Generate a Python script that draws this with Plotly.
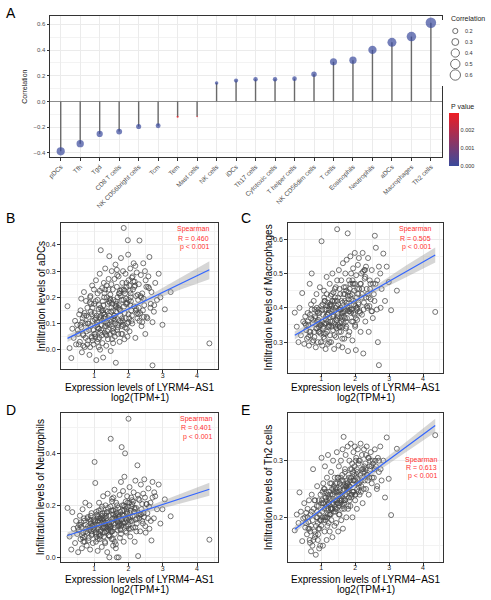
import plotly.graph_objects as go

# ---------------- Panel A data ----------------
cell_types = ["pDCs", "Tfh", "Tgd", "CD8 T cells", "NK CD56bright cells", "Tcm", "Tem",
              "Mast cells", "NK cells", "iDCs", "Th17 cells", "Cytotoxic cells",
              "T helper cells", "NK CD56dim cells", "T cells", "Eosinophils",
              "Neutrophils", "aDCs", "Macrophages", "Th2 cells"]
correlation = [-0.389, -0.329, -0.253, -0.235, -0.196, -0.190, -0.120, -0.117, 0.143, 0.162,
               0.172, 0.172, 0.177, 0.211, 0.308, 0.321, 0.401, 0.460, 0.505, 0.613]
p_value = [0.0, 0.0, 0.0, 0.0, 0.0, 0.0, 0.00292, 0.0027, 0.0, 0.0,
           0.0, 0.0, 0.0, 0.0, 0.0, 0.0, 0.0, 0.0, 0.0, 0.0]
size_legend_vals = [0.2, 0.3, 0.4, 0.5, 0.6]
pval_ticks = [0.0, 0.001, 0.002]

# ---------------- Scatter panels data (shared LYRM4-AS1 expression) ----------------
expr = [0.22, 0.28, 0.33, 0.36, 0.40, 0.44, 0.47, 0.50, 0.53, 0.56,
        0.58, 0.60, 0.62, 0.64, 0.66, 0.68, 0.70, 0.72, 0.74, 0.76,
        0.78, 0.80, 0.82, 0.84, 0.86, 0.88, 0.90, 0.92, 0.94, 0.96,
        0.98, 1.00, 1.01, 1.03, 1.05, 1.06, 1.08, 1.10, 1.11, 1.13,
        1.14, 1.16, 1.17, 1.19, 1.20, 1.22, 1.23, 1.25, 1.26, 1.28,
        1.29, 1.30, 1.32, 1.33, 1.35, 1.36, 1.38, 1.39, 1.40, 1.42,
        1.43, 1.44, 1.46, 1.47, 1.48, 1.50, 1.51, 1.52, 1.54, 1.55,
        1.56, 1.58, 1.59, 1.60, 1.62, 1.63, 1.64, 1.66, 1.67, 1.68,
        1.70, 1.71, 1.72, 1.74, 1.75, 1.76, 1.78, 1.79, 1.80, 1.82,
        1.83, 1.84, 1.86, 1.87, 1.88, 1.90, 1.91, 1.92, 1.94, 1.95,
        1.96, 1.98, 1.99, 2.00, 2.02, 2.03, 2.05, 2.06, 2.08, 2.10,
        2.11, 2.13, 2.15, 2.16, 2.18, 2.20, 2.22, 2.24, 2.26, 2.28,
        2.30, 2.32, 2.34, 2.36, 2.38, 2.40, 2.43, 2.46, 2.49, 2.52,
        2.55, 2.58, 2.61, 2.64, 2.67, 2.70, 2.74, 2.78, 2.83, 2.88,
        2.93, 2.99, 3.06, 3.23, 4.36, 0.95, 1.25, 1.45, 1.65, 1.85,
        1.05, 1.15, 1.35, 1.55, 1.75, 1.95, 1.10, 1.30, 1.50, 1.70,
        0.85, 1.02, 1.18, 1.34, 1.49, 1.61, 1.77, 1.89, 2.04, 2.21,
        0.75, 0.92, 1.12, 1.27, 1.41, 1.57, 1.73, 1.93, 2.09, 2.35,
        0.65, 0.88, 1.07, 1.21, 1.37, 1.53, 1.69, 1.81, 2.01, 2.45,
        0.70, 0.97, 1.24, 1.45, 1.60, 1.80, 2.00, 2.25, 2.50, 2.70,
        0.80, 0.90, 1.00, 1.10, 1.20, 1.30, 1.40, 1.50, 1.60, 1.70,
        1.80, 1.90, 2.00, 2.10, 2.20, 2.30, 2.40, 0.60, 0.68, 0.87,
        0.83, 0.93, 1.04, 1.13, 1.22, 1.31, 1.42, 1.52, 1.62, 1.72,
        1.82, 1.92, 2.02, 2.12, 2.27, 2.42, 2.60, 0.55, 0.72, 0.99,
        0.77, 0.89, 1.09, 1.19, 1.28, 1.38, 1.47, 1.58, 1.67, 1.78,
        1.88, 1.97, 2.07, 2.17, 2.32, 2.48, 2.65, 0.62, 1.15, 1.55,
        0.95, 1.08, 1.16, 1.26, 1.36, 1.46, 1.56, 1.66, 1.76, 1.86,
        1.96, 2.06, 2.14, 2.23, 2.37, 2.53, 2.75, 0.52, 0.81, 1.33,
        1.03, 1.14, 1.23, 1.32, 1.43, 1.54, 1.64, 1.74, 1.84, 1.94,
        2.05, 2.19, 2.29, 2.44, 2.57, 0.67, 0.91, 1.18, 1.39, 1.63]

adcs = [0.166, 0.006, -0.032, 0.080, 0.045, 0.110, 0.020, 0.095, 0.060, 0.135,
        0.030, 0.150, 0.085, -0.010, 0.120, 0.055, 0.220, 0.010, 0.100, 0.186,
        0.070, 0.160, 0.035, 0.125, -0.020, 0.200, 0.090, 0.050, 0.245, 0.110,
        0.020, 0.175, 0.140, 0.060, 0.265, -0.040, 0.105, 0.215, 0.040, 0.155,
        0.080, 0.290, 0.000, 0.380, 0.130, 0.055, 0.235, 0.185, -0.030, 0.120,
        0.200, 0.065, 0.310, 0.150, 0.015, 0.245, 0.100, 0.175, 0.040, 0.270,
        0.130, 0.357, 0.060, 0.210, -0.005, 0.160, 0.300, 0.090, 0.230, 0.025,
        0.190, 0.110, 0.270, 0.050, 0.325, -0.050, 0.145, 0.240, 0.075, 0.200,
        0.095, 0.280, 0.170, 0.030, 0.225, 0.130, 0.350, 0.060, 0.190, 0.255,
        0.110, 0.300, 0.465, 0.165, 0.040, 0.215, 0.290, 0.120, 0.255, 0.080,
        0.180, 0.418, 0.363, 0.135, 0.245, 0.070, 0.310, 0.200, 0.150, 0.275,
        0.100, 0.230, 0.330, 0.165, 0.260, 0.045, 0.205, 0.295, 0.120, 0.190,
        0.250, 0.417, 0.140, 0.285, 0.090, 0.215, 0.330, 0.170, 0.060, 0.240,
        0.120, 0.280, 0.354, 0.160, 0.220, -0.060, 0.145, 0.255, 0.190, 0.290,
        0.200, 0.095, 0.154, 0.220, 0.024, 0.035, 0.150, 0.095, 0.175, 0.190,
        0.120, 0.045, 0.090, 0.150, 0.110, 0.175, 0.085, 0.135, 0.115, 0.160,
        0.075, 0.115, 0.160, 0.060, 0.145, 0.100, 0.205, 0.140, 0.225, 0.150,
        0.045, 0.135, 0.080, 0.170, 0.120, 0.065, 0.155, 0.195, 0.110, 0.205,
        0.105, 0.010, 0.130, 0.095, 0.200, 0.175, 0.085, 0.120, 0.190, 0.125,
        0.130, 0.075, 0.025, 0.180, 0.130, 0.090, 0.105, 0.140, 0.265, 0.105,
        0.020, 0.145, 0.060, 0.190, 0.075, 0.215, 0.095, 0.250, 0.115, 0.060,
        0.230, 0.085, 0.265, 0.130, 0.320, 0.160, 0.105, 0.095, 0.015, 0.180,
        0.100, 0.045, 0.185, 0.010, 0.150, 0.090, 0.230, 0.040, 0.170, 0.215,
        0.060, 0.175, 0.120, 0.280, 0.210, 0.150, 0.235, 0.020, 0.140, 0.230,
        0.130, 0.205, 0.030, 0.120, 0.255, 0.070, 0.190, 0.130, 0.285, 0.105,
        0.225, 0.050, 0.185, 0.240, 0.110, 0.300, 0.175, 0.195, 0.125, 0.080,
        0.160, 0.095, 0.225, 0.140, 0.055, 0.195, 0.120, 0.305, 0.150, 0.230,
        0.100, 0.215, 0.260, 0.155, 0.200, 0.125, 0.170, 0.075, 0.100, 0.125,
        0.050, 0.170, 0.110, 0.230, 0.185, 0.070, 0.165, 0.215, 0.095, 0.240,
        0.170, 0.245, 0.135, 0.195, 0.240, 0.060, 0.175, 0.065, 0.145, 0.185]

macrophages = [0.386, 0.345, 0.300, 0.400, 0.320, 0.443, 0.360, 0.295, 0.375, 0.335,
               0.310, 0.385, 0.350, 0.290, 0.470, 0.330, 0.410, 0.500, 0.300, 0.365,
               0.420, 0.315, 0.375, 0.285, 0.440, 0.340, 0.300, 0.395, 0.355, 0.460,
               0.325, 0.405, 0.594, 0.290, 0.380, 0.345, 0.450, 0.310, 0.420, 0.280,
               0.365, 0.490, 0.330, 0.415, 0.295, 0.395, 0.350, 0.470, 0.320, 0.435,
               0.300, 0.405, 0.360, 0.500, 0.335, 0.445, 0.280, 0.390, 0.420, 0.350,
               0.460, 0.315, 0.405, 0.629, 0.370, 0.430, 0.290, 0.510, 0.345, 0.395,
               0.440, 0.330, 0.480, 0.375, 0.285, 0.415, 0.530, 0.355, 0.460, 0.310,
               0.390, 0.500, 0.340, 0.450, 0.540, 0.370, 0.617, 0.274, 0.425, 0.480,
               0.330, 0.455, 0.550, 0.395, 0.500, 0.360, 0.440, 0.305, 0.515, 0.420,
               0.470, 0.380, 0.560, 0.345, 0.277, 0.495, 0.430, 0.365, 0.525, 0.410,
               0.545, 0.390, 0.470, 0.330, 0.500, 0.440, 0.560, 0.267, 0.415, 0.485,
               0.360, 0.520, 0.455, 0.400, 0.545, 0.330, 0.480, 0.425, 0.510, 0.370,
               0.440, 0.610, 0.575, 0.395, 0.300, 0.233, 0.500, 0.455, 0.558, 0.420,
               0.520, 0.475, 0.393, 0.450, 0.388, 0.330, 0.405, 0.365, 0.390, 0.435,
               0.340, 0.395, 0.420, 0.370, 0.415, 0.385, 0.355, 0.345, 0.410, 0.440,
               0.340, 0.360, 0.380, 0.395, 0.350, 0.385, 0.395, 0.425, 0.400, 0.455,
               0.355, 0.330, 0.395, 0.360, 0.430, 0.400, 0.360, 0.470, 0.440, 0.405,
               0.330, 0.390, 0.315, 0.345, 0.375, 0.330, 0.420, 0.390, 0.405, 0.470,
               0.370, 0.350, 0.300, 0.340, 0.360, 0.320, 0.350, 0.395, 0.390, 0.520,
               0.330, 0.385, 0.350, 0.420, 0.360, 0.390, 0.455, 0.375, 0.420, 0.370,
               0.445, 0.395, 0.470, 0.415, 0.380, 0.490, 0.430, 0.360, 0.320, 0.400,
               0.370, 0.345, 0.410, 0.325, 0.385, 0.440, 0.345, 0.395, 0.310, 0.460,
               0.400, 0.480, 0.370, 0.455, 0.510, 0.405, 0.470, 0.350, 0.395, 0.300,
               0.305, 0.360, 0.430, 0.380, 0.410, 0.355, 0.480, 0.395, 0.375, 0.435,
               0.385, 0.450, 0.400, 0.470, 0.430, 0.390, 0.480, 0.315, 0.355, 0.345,
               0.385, 0.325, 0.440, 0.410, 0.380, 0.420, 0.355, 0.440, 0.405, 0.470,
               0.410, 0.455, 0.385, 0.505, 0.440, 0.470, 0.400, 0.355, 0.395, 0.375,
               0.395, 0.375, 0.345, 0.420, 0.400, 0.455, 0.385, 0.345, 0.390, 0.360,
               0.395, 0.430, 0.510, 0.455, 0.420, 0.380, 0.365, 0.405, 0.320, 0.345]

neutrophils = [0.190, 0.080, 0.030, 0.174, 0.110, 0.055, 0.140, 0.090, 0.020, 0.125,
               0.160, 0.070, 0.115, 0.035, 0.185, 0.095, 0.140, 0.060, 0.210, 0.100,
               0.045, 0.150, 0.120, 0.075, 0.200, 0.030, 0.130, 0.170, 0.090, 0.055,
               0.145, 0.105, 0.367, 0.286, 0.060, 0.175, 0.125, 0.025, 0.155, 0.090,
               0.210, 0.070, 0.140, 0.105, 0.185, 0.040, 0.160, 0.115, 0.235, 0.080,
               0.130, 0.170, 0.055, 0.200, 0.100, 0.150, 0.020, 0.245, 0.120, 0.085,
               0.160, 0.000, 0.110, 0.195, 0.456, 0.135, 0.070, 0.225, 0.150, 0.045,
               0.180, 0.125, 0.260, 0.090, 0.160, 0.035, 0.210, 0.000, 0.140, 0.105,
               0.190, 0.000, 0.155, 0.240, 0.075, 0.175, 0.290, 0.120, 0.424, 0.200,
               0.135, 0.255, 0.060, 0.180, 0.310, 0.400, 0.150, 0.215, 0.095, 0.170,
               0.235, 0.120, 0.195, 0.533, 0.145, 0.270, 0.080, 0.180, 0.230, 0.140,
               0.205, 0.115, 0.250, 0.175, 0.060, 0.295, 0.190, 0.130, 0.354, 0.005,
               0.160, 0.220, 0.100, 0.280, 0.185, 0.140, 0.245, 0.300, 0.120, 0.205,
               0.170, 0.265, 0.110, 0.210, 0.065, 0.290, 0.150, 0.235, 0.185, 0.280,
               0.130, 0.185, 0.223, 0.158, 0.068, 0.110, 0.095, 0.125, 0.170, 0.130,
               0.095, 0.150, 0.115, 0.165, 0.130, 0.145, 0.110, 0.095, 0.180, 0.120,
               0.105, 0.135, 0.100, 0.160, 0.120, 0.155, 0.105, 0.135, 0.170, 0.145,
               0.125, 0.085, 0.140, 0.150, 0.105, 0.130, 0.160, 0.120, 0.195, 0.165,
               0.085, 0.115, 0.080, 0.130, 0.140, 0.100, 0.135, 0.165, 0.110, 0.155,
               0.150, 0.140, 0.170, 0.080, 0.115, 0.145, 0.125, 0.150, 0.095, 0.230,
               0.095, 0.160, 0.125, 0.070, 0.150, 0.115, 0.190, 0.100, 0.060, 0.165,
               0.125, 0.195, 0.150, 0.220, 0.115, 0.170, 0.205, 0.125, 0.060, 0.145,
               0.065, 0.120, 0.090, 0.180, 0.145, 0.060, 0.135, 0.215, 0.185, 0.140,
               0.180, 0.100, 0.210, 0.160, 0.240, 0.130, 0.195, 0.105, 0.080, 0.115,
               0.110, 0.140, 0.160, 0.085, 0.120, 0.175, 0.105, 0.150, 0.200, 0.090,
               0.160, 0.210, 0.110, 0.190, 0.150, 0.230, 0.140, 0.135, 0.125, 0.070,
               0.120, 0.165, 0.080, 0.140, 0.170, 0.115, 0.230, 0.150, 0.110, 0.200,
               0.175, 0.140, 0.215, 0.100, 0.165, 0.205, 0.250, 0.115, 0.155, 0.135,
               0.140, 0.115, 0.195, 0.125, 0.085, 0.180, 0.145, 0.125, 0.160, 0.185,
               0.155, 0.185, 0.225, 0.170, 0.150, 0.075, 0.100, 0.150, 0.110, 0.050]

th2 = [0.177, 0.205, 0.190, 0.244, 0.210, 0.158, 0.198, 0.225, 0.182, 0.208,
       0.170, 0.215, 0.192, 0.230, 0.160, 0.205, 0.185, 0.240, 0.150, 0.285,
       0.215, 0.175, 0.230, 0.134, 0.200, 0.255, 0.160, 0.220, 0.145, 0.195,
       0.240, 0.185, 0.305, 0.210, 0.150, 0.260, 0.225, 0.175, 0.290, 0.200,
       0.235, 0.160, 0.270, 0.205, 0.310, 0.190, 0.245, 0.175, 0.260, 0.215,
       0.280, 0.195, 0.240, 0.165, 0.300, 0.225, 0.255, 0.185, 0.270, 0.210,
       0.250, 0.190, 0.315, 0.225, 0.270, 0.175, 0.240, 0.290, 0.205, 0.260,
       0.225, 0.300, 0.195, 0.265, 0.240, 0.320, 0.180, 0.342, 0.250, 0.215,
       0.285, 0.230, 0.310, 0.200, 0.265, 0.245, 0.325, 0.215, 0.275, 0.235,
       0.300, 0.255, 0.220, 0.330, 0.270, 0.240, 0.295, 0.200, 0.280, 0.315,
       0.245, 0.290, 0.325, 0.230, 0.270, 0.305, 0.215, 0.280, 0.320, 0.255,
       0.300, 0.240, 0.275, 0.330, 0.255, 0.310, 0.225, 0.285, 0.320, 0.265,
       0.295, 0.250, 0.325, 0.275, 0.305, 0.240, 0.290, 0.315, 0.260, 0.300,
       0.270, 0.320, 0.290, 0.250, 0.305, 0.280, 0.325, 0.265, 0.300, 0.235,
       0.341, 0.268, 0.204, 0.321, 0.345, 0.205, 0.230, 0.245, 0.255, 0.265,
       0.225, 0.215, 0.240, 0.230, 0.255, 0.265, 0.200, 0.215, 0.225, 0.240,
       0.185, 0.230, 0.200, 0.215, 0.245, 0.215, 0.260, 0.240, 0.275, 0.285,
       0.195, 0.180, 0.235, 0.240, 0.215, 0.255, 0.240, 0.260, 0.245, 0.275,
       0.180, 0.210, 0.195, 0.225, 0.210, 0.220, 0.230, 0.255, 0.240, 0.285,
       0.140, 0.150, 0.205, 0.215, 0.230, 0.220, 0.265, 0.250, 0.270, 0.300,
       0.230, 0.190, 0.225, 0.250, 0.215, 0.260, 0.220, 0.270, 0.230, 0.280,
       0.250, 0.285, 0.240, 0.295, 0.270, 0.285, 0.305, 0.200, 0.175, 0.220,
       0.170, 0.230, 0.245, 0.195, 0.235, 0.215, 0.260, 0.205, 0.275, 0.255,
       0.270, 0.245, 0.300, 0.260, 0.290, 0.270, 0.300, 0.190, 0.210, 0.195,
       0.160, 0.200, 0.215, 0.240, 0.205, 0.245, 0.230, 0.270, 0.225, 0.260,
       0.235, 0.275, 0.260, 0.245, 0.310, 0.290, 0.255, 0.180, 0.220, 0.250,
       0.180, 0.250, 0.230, 0.205, 0.250, 0.260, 0.240, 0.230, 0.250, 0.285,
       0.265, 0.250, 0.300, 0.280, 0.265, 0.295, 0.285, 0.200, 0.165, 0.225,
       0.200, 0.245, 0.225, 0.250, 0.230, 0.245, 0.265, 0.255, 0.230, 0.245,
       0.285, 0.265, 0.280, 0.300, 0.285, 0.155, 0.170, 0.185, 0.230, 0.220]

# fitted line and 95% band
fit_x = [0.22, 1.0, 1.6, 2.5, 3.5, 4.36]
adcs_fit = [0.043, 0.092, 0.130, 0.188, 0.251, 0.305]
adcs_lo = [0.029, 0.084, 0.124, 0.177, 0.229, 0.269]
adcs_hi = [0.057, 0.100, 0.136, 0.199, 0.273, 0.338]
mac_fit = [0.320, 0.365, 0.398, 0.449, 0.506, 0.554]
mac_lo = [0.308, 0.359, 0.393, 0.440, 0.489, 0.532]
mac_hi = [0.332, 0.371, 0.403, 0.458, 0.523, 0.576]
neu_fit = [0.084, 0.118, 0.144, 0.183, 0.226, 0.262]
neu_lo = [0.071, 0.111, 0.139, 0.173, 0.207, 0.237]
neu_hi = [0.097, 0.125, 0.149, 0.193, 0.245, 0.287]
th2_fit = [0.179, 0.213, 0.240, 0.280, 0.324, 0.362]
th2_lo = [0.173, 0.210, 0.2375, 0.275, 0.315, 0.350]
th2_hi = [0.185, 0.216, 0.2425, 0.285, 0.333, 0.374]

spearman_r = ["0.460", "0.505", "0.401", "0.613"]
cell_names = ["aDCs", "Macrophages", "Neutrophils", "Th2 cells"]

# ---------------- helpers ----------------
W, H = 491, 600
FONT = "Liberation Sans, Arial, sans-serif"


def P(px):
    return px / W


def Q(py):
    return 1 - py / H


cmin_abs = min(abs(v) for v in correlation)
cmax_abs = max(abs(v) for v in correlation)


def dot_size(v):
    t = max(0.0, (abs(v) - cmin_abs) / (cmax_abs - cmin_abs))
    return 1.5 + 9.0 * t ** 0.5


fig = go.Figure()

# ---------------- Panel A ----------------
sx, sy = [], []
for c, v in zip(cell_types, correlation):
    sx += [c, c, None]
    sy += [0, v, None]
fig.add_trace(go.Scatter(x=sx, y=sy, mode="lines", line=dict(color="#6A6A6A", width=1.4),
                         xaxis="x", yaxis="y", hoverinfo="skip", showlegend=False))
fig.add_trace(go.Scatter(
    x=cell_types, y=correlation, mode="markers", xaxis="x", yaxis="y", showlegend=False,
    marker=dict(size=[dot_size(v) for v in correlation], color=p_value,
                colorscale=[[0, "#3A4A9C"], [1, "#EE1D23"]], cmin=0, cmax=max(p_value),
                line=dict(width=0), showscale=True,
                colorbar=dict(x=P(449), xanchor="left", xpad=0, y=Q(139.6), yanchor="middle",
                              ypad=0, len=52.7, lenmode="pixels", thickness=10,
                              thicknessmode="pixels", outlinewidth=0,
                              tickvals=pval_ticks, ticktext=[f"{t:.3f}" for t in pval_ticks],
                              ticks="", tickfont=dict(size=5.5, color="#333", family=FONT)))))

# size legend (drawn on a hidden helper axis)
fig.add_trace(go.Scatter(
    x=[455.3] * len(size_legend_vals), y=size_legend_vals, mode="markers",
    xaxis="x6", yaxis="y6", showlegend=False, hoverinfo="skip",
    marker=dict(size=[dot_size(v) for v in size_legend_vals], color="white",
                line=dict(color="#1A1A1A", width=0.9))))

# ---------------- Scatter panels ----------------
panels = [
    (2, adcs, adcs_fit, adcs_lo, adcs_hi),
    (3, macrophages, mac_fit, mac_lo, mac_hi),
    (4, neutrophils, neu_fit, neu_lo, neu_hi),
    (5, th2, th2_fit, th2_lo, th2_hi),
]
for n, yv, fit, lo, hi in panels:
    xa, ya = f"x{n}", f"y{n}"
    fig.add_trace(go.Scatter(x=expr, y=yv, mode="markers", xaxis=xa, yaxis=ya, showlegend=False,
                             marker=dict(symbol="circle-open", size=5, color="#474747",
                                         line=dict(width=0.75))))
    fig.add_trace(go.Scatter(x=fit_x + fit_x[::-1], y=hi + lo[::-1], fill="toself",
                             fillcolor="rgba(153,153,153,0.4)", line=dict(width=0),
                             mode="lines", xaxis=xa, yaxis=ya, showlegend=False,
                             hoverinfo="skip"))
    fig.add_trace(go.Scatter(x=fit_x, y=fit, mode="lines", line=dict(color="#3366FF", width=1.2),
                             xaxis=xa, yaxis=ya, showlegend=False))

# ---------------- axes ----------------
GRID = "#EBEBEB"
MINOR = "#F3F3F3"
frame = dict(showline=True, linecolor="#333333", linewidth=1, mirror=True, zeroline=False,
             automargin=False)

layout_axes = {}
layout_axes["xaxis"] = dict(domain=[P(50), P(442)], type="category", range=[-0.55, 19.57],
                            showgrid=True, gridcolor=GRID, gridwidth=1, ticks="outside",
                            ticklen=2.5, tickwidth=0.8, tickcolor="#333", tickangle=-45,
                            tickfont=dict(size=6.5, color="#4D4D4D"), anchor="y", **frame)
layout_axes["yaxis"] = dict(domain=[Q(157), Q(16)], range=[-0.433, 0.665], dtick=0.2, tick0=0,
                            tickformat=".1f", showgrid=True, gridcolor=GRID, gridwidth=1,
                            minor=dict(dtick=0.1, tick0=0, showgrid=True, gridcolor=MINOR,
                                       gridwidth=0.6),
                            ticks="outside", ticklen=2.5, tickwidth=0.8, tickcolor="#333",
                            tickfont=dict(size=6, color="#4D4D4D"), anchor="x",
                            showline=True, linecolor="#333333", linewidth=1, mirror=True,
                            zeroline=True, zerolinecolor="#8C8C8C", zerolinewidth=1,
                            automargin=False)

sc_geom = {
    2: ([P(61), P(218.3)], [Q(369.3), Q(222.7)], [0.03, 4.62], [-0.075, 0.485], 0.1),
    3: ([P(288.3), P(442.7)], [Q(372.7), Q(222.7)], [0.03, 4.58], [0.211, 0.648], 0.1),
    4: ([P(61), P(218.3)], [Q(562.3), Q(413.3)], [0.03, 4.62], [-0.019, 0.554], 0.2),
    5: ([P(288.3), P(442.7)], [Q(561.7), Q(413.3)], [0.03, 4.58], [0.1217, 0.3836], 0.1),
}
for n, (xd, yd, xr, yr, ydt) in sc_geom.items():
    layout_axes[f"xaxis{n}"] = dict(domain=xd, range=xr, dtick=1, tick0=0, anchor=f"y{n}",
                                    showgrid=True, gridcolor=GRID, gridwidth=1,
                                    minor=dict(dtick=0.5, tick0=0, showgrid=True,
                                               gridcolor=MINOR, gridwidth=0.6),
                                    ticks="outside", ticklen=3, tickwidth=0.8, tickcolor="#333",
                                    ticklabelstandoff=-4,
                                    tickfont=dict(size=7, color="#222"), **frame)
    layout_axes[f"yaxis{n}"] = dict(domain=yd, range=yr, dtick=ydt, tick0=0, tickformat=".1f",
                                    anchor=f"x{n}", showgrid=True, gridcolor=GRID, gridwidth=1,
                                    minor=dict(dtick=ydt / 2, tick0=0, showgrid=True,
                                               gridcolor=MINOR, gridwidth=0.6),
                                    ticks="outside", ticklen=3, tickwidth=0.8, tickcolor="#333",
                                    tickfont=dict(size=7, color="#222"), **frame)

layout_axes["xaxis6"] = dict(domain=[P(440), 1.0], range=[440, 491], visible=False,
                             anchor="y6", fixedrange=True)
layout_axes["yaxis6"] = dict(domain=[Q(86), Q(20)], range=[0.7, 0.1], visible=False,
                             anchor="x6", fixedrange=True)

# ---------------- annotations ----------------
ann = []


def text(x, y, s, size, color="#000", xanchor="center", yanchor="middle", angle=0,
         xref="paper", yref="paper"):
    ann.append(dict(x=x, y=y, xref=xref, yref=yref, text=s, showarrow=False,
                    xanchor=xanchor, yanchor=yanchor, textangle=angle,
                    font=dict(size=size, color=color, family=FONT)))


# panel letters
for letter, (lx, ly) in {"A": (11, 13), "B": (10.5, 218), "C": (246, 218),
                         "D": (10.5, 410), "E": (245, 410)}.items():
    text(P(lx), Q(ly), letter, 14)

# panel A axis title and legend titles / labels
text(P(24.3), Q(86.5), "Correlation", 7, color="#222", angle=-90)
text(P(449), Q(18.3), "Correlation", 7, color="#222", xanchor="left")
text(P(449), Q(106.7), "P value", 7, color="#222", xanchor="left")
for v in size_legend_vals:
    text(463.3, v, f"{v:.1f}", 5.5, color="#333", xanchor="left", xref="x6", yref="y6")

# scatter panel titles and Spearman labels
red = "#FF3030"
sp_pos = {2: (210.7, [229.3, 238.0, 247.0]), 3: (433.0, [229.3, 238.0, 247.0]),
          4: (214.3, [418.7, 427.7, 437.0]), 5: (439.3, [459.5, 467.5, 475.5])}
xt_pos = {2: (139.7, 387.4, 397.4), 3: (365.5, 387.9, 397.4),
          4: (139.7, 579.5, 589.0), 5: (365.5, 579.5, 589.0)}
yt_pos = {2: (40.5, 296.0), 3: (268.8, 297.7), 4: (40.5, 487.8), 5: (268.8, 487.5)}
for i, n in enumerate([2, 3, 4, 5]):
    rx, ys = sp_pos[n]
    for s, yy in zip(["Spearman", f"R = {spearman_r[i]}", "p < 0.001"], ys):
        text(P(rx), Q(yy), s, 7, color=red, xanchor="right")
    cx, l1, l2 = xt_pos[n]
    text(P(cx), Q(l1), "Expression levels of LYRM4\u2212AS1", 10)
    text(P(cx), Q(l2), "log2(TPM+1)", 10)
    yx, yy = yt_pos[n]
    text(P(yx), Q(yy), f"Infiltration levels of {cell_names[i]}", 10, angle=-90)

fig.update_layout(
    width=W, height=H, margin=dict(l=0, r=0, t=0, b=0, pad=0),
    paper_bgcolor="white", plot_bgcolor="white",
    font=dict(family=FONT, size=8, color="#000"),
    showlegend=False, annotations=ann, **layout_axes)

# remove the browser's default 8px body margin so the figure sits at the page origin
fig.write_html("out.html", config={"displayModeBar": False},
               post_script="document.body.style.margin='0px';"
                           "document.documentElement.style.overflow='hidden';")
